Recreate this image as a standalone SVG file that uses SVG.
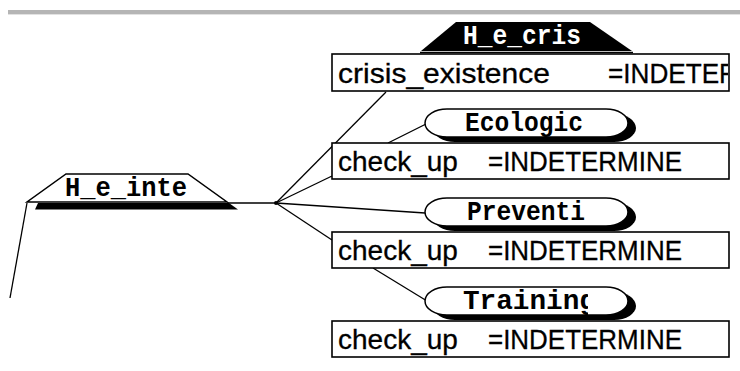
<svg xmlns="http://www.w3.org/2000/svg" width="740" height="371" viewBox="0 0 740 371">
<defs>
<style>
.box{fill:#fff;stroke:#000;stroke-width:1.6}
.val{font-family:"Liberation Sans",Arial,sans-serif;font-size:28px;fill:#000;stroke:#000;stroke-width:0.3}
.lbl{font-family:"Liberation Mono","Courier New",monospace;font-weight:bold;font-size:27px;fill:#000}
.cap{fill:#fff;stroke:#000;stroke-width:1.5}
.shadow{fill:#000}
.conn line{stroke:#000;stroke-width:1.3;fill:none}
</style>
<clipPath id="clipBox"><rect x="333" y="50" width="395" height="40"/></clipPath>
<clipPath id="clipTr"><rect x="430" y="286" width="158" height="30"/></clipPath>
<path id="capsule" d="M447,0 H606 A22,14 0 0 1 606,28 H447 A22,14 0 0 1 447,0 Z"/>
</defs>
<rect x="0" y="0" width="740" height="371" fill="#fff"/>
<rect x="8" y="10" width="732" height="4" fill="#b5b5b5"/>
<rect x="8" y="14" width="732" height="1" fill="#e2e2e2"/>

<g class="conn" id="connectors">
<line x1="27" y1="203" x2="10" y2="298"/>
<line x1="227" y1="203" x2="276" y2="203"/>
<line x1="276" y1="203" x2="386" y2="92"/>
<line x1="276" y1="203" x2="332" y2="176"/>
<line x1="276" y1="203" x2="425" y2="213"/>
<line x1="276" y1="203" x2="332" y2="240"/>
<line x1="388" y1="143" x2="426" y2="124"/>
<line x1="373" y1="268" x2="427" y2="301"/>
<circle cx="276" cy="203" r="2" fill="#000"/>
</g>

<g id="node-H_e_inte">
<polygon points="38,203 229,203 238,209.5 35,209.5" fill="#000"/>
<polygon points="66,174 188,174 227,202 27,202" fill="#fff" stroke="#000" stroke-width="1.5"/>
<text class="lbl" x="65" y="196" font-size="26" textLength="122" lengthAdjust="spacingAndGlyphs">H_e_inte</text>
</g>

<g id="node-H_e_crisis">
<polygon points="456,22 590,22 632,51 421,51" fill="#000"/>
<line x1="420" y1="52.5" x2="633" y2="52.5" stroke="#000" stroke-width="1.3"/>
<text class="lbl" x="463" y="44" style="fill:#fff" textLength="118" lengthAdjust="spacingAndGlyphs">H_e_cris</text>
<rect class="box" x="332" y="54" width="397" height="37"/>
<text class="val" x="338" y="83" textLength="212" lengthAdjust="spacingAndGlyphs">crisis_existence</text>
<text class="val" x="608" y="83" clip-path="url(#clipBox)" textLength="130" lengthAdjust="spacingAndGlyphs">=INDETER</text>
</g>

<g id="node-Ecologic">
<use href="#capsule" class="shadow" transform="translate(8,114)"/>
<use href="#capsule" class="cap" transform="translate(0,109)"/>
<text class="lbl" x="465" y="131" textLength="118" lengthAdjust="spacingAndGlyphs">Ecologic</text>
<rect class="box" x="332" y="143" width="397" height="36"/>
<text class="val" y="171"><tspan x="338">check_up</tspan> <tspan x="488" textLength="194" lengthAdjust="spacingAndGlyphs">=INDETERMINE</tspan></text>
</g>

<g id="node-Preventi">
<use href="#capsule" class="shadow" transform="translate(8,203)"/>
<use href="#capsule" class="cap" transform="translate(0,198)"/>
<text class="lbl" x="467" y="220" textLength="118" lengthAdjust="spacingAndGlyphs">Preventi</text>
<rect class="box" x="332" y="232" width="397" height="36"/>
<text class="val" y="260"><tspan x="338">check_up</tspan> <tspan x="488" textLength="194" lengthAdjust="spacingAndGlyphs">=INDETERMINE</tspan></text>
</g>

<g id="node-Training">
<use href="#capsule" class="shadow" transform="translate(8,292)"/>
<use href="#capsule" class="cap" transform="translate(0,287)"/>
<text class="lbl" x="463" y="309" clip-path="url(#clipTr)" textLength="133" lengthAdjust="spacingAndGlyphs">Training</text>
<rect class="box" x="332" y="321" width="397" height="36"/>
<text class="val" y="349"><tspan x="338">check_up</tspan> <tspan x="488" textLength="194" lengthAdjust="spacingAndGlyphs">=INDETERMINE</tspan></text>
</g>
</svg>
